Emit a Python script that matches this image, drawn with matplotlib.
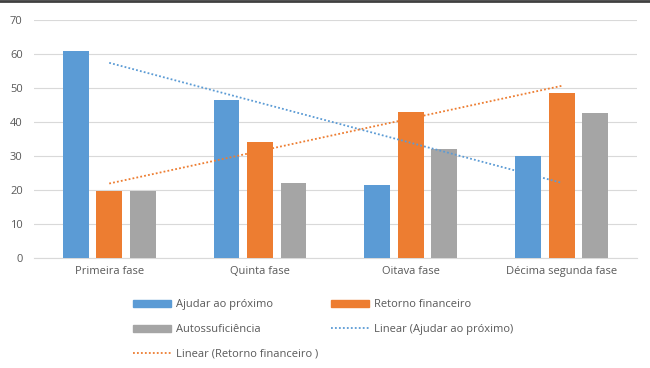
import numpy as np
import matplotlib
matplotlib.use("Agg")
import matplotlib.pyplot as plt
from matplotlib.lines import Line2D
from matplotlib.patches import Patch

# ---------------------------------------------------------------------------
# Dados
# ---------------------------------------------------------------------------
fases = ["Primeira fase", "Quinta fase", "Oitava fase", "Décima segunda fase"]
ajudar = [61, 46.5, 21.5, 30]
retorno = [19.5, 34, 43, 48.5]
autossuf = [19.5, 22, 32, 42.5]

AZUL, LARANJA, CINZA = "#5B9BD5", "#ED7D31", "#A5A5A5"
TXT = "#595959"

plt.rcParams["font.family"] = ["Open Sans", "DejaVu Sans"]

fig = plt.figure(figsize=(6.5, 3.68), dpi=100)
fig.patch.set_facecolor("white")
ax = fig.add_axes([0.052, 0.30, 0.928, 0.645])

x = np.arange(1, len(fases) + 1)
w = 0.172
d = 0.222
ax.bar(x - d, ajudar, w, color=AZUL, zorder=3)
ax.bar(x, retorno, w, color=LARANJA, zorder=3)
ax.bar(x + d, autossuf, w, color=CINZA, zorder=3)

# linhas de tendência (ajuste linear)
for serie, cor in [(ajudar, AZUL), (retorno, LARANJA)]:
    a, b = np.polyfit(x, serie, 1)
    ax.plot(x[[0, -1]], a * x[[0, -1]] + b, color=cor, lw=1.3,
            ls=(0, (1, 1.2)), zorder=4)

ax.set_xlim(0.5, 4.5)
ax.set_ylim(0, 70)
ax.set_yticks(range(0, 71, 10))
ax.set_xticks(x)
ax.set_xticklabels(fases)
ax.grid(axis="y", color="#D9D9D9", lw=0.8, zorder=0)
for s in ["top", "right", "left"]:
    ax.spines[s].set_visible(False)
ax.spines["bottom"].set_color("#D9D9D9")
ax.tick_params(axis="both", length=0, colors=TXT, labelsize=8)
ax.tick_params(axis="x", pad=6)
ax.tick_params(axis="y", pad=8)

# legenda (ordem Excel, preenchida por coluna)
h_a = Patch(color=AZUL)
h_r = Patch(color=LARANJA)
h_c = Patch(color=CINZA)
h_la = Line2D([], [], color=AZUL, lw=1.3, ls=(0, (1, 1.2)))
h_lr = Line2D([], [], color=LARANJA, lw=1.3, ls=(0, (1, 1.2)))
handles = [h_a, h_c, h_lr, h_r, h_la]
labels = ["Ajudar ao próximo", "Autossuficiência",
          "Linear (Retorno financeiro )",
          "Retorno financeiro", "Linear (Ajudar ao próximo)"]
leg = fig.legend(handles, labels, ncol=2, loc="upper left",
                 bbox_to_anchor=(0.205, 0.187), frameon=False,
                 fontsize=8, labelcolor=TXT, handlelength=3.4,
                 handleheight=0.6, handletextpad=0.45, columnspacing=1.15,
                 labelspacing=1.25, borderaxespad=0, borderpad=0)

# borda superior escura
fig.add_artist(Line2D([0, 1], [0.997, 0.997], color="#404040", lw=2,
                      transform=fig.transFigure))

fig.savefig("out.png", dpi=100, facecolor="white")
